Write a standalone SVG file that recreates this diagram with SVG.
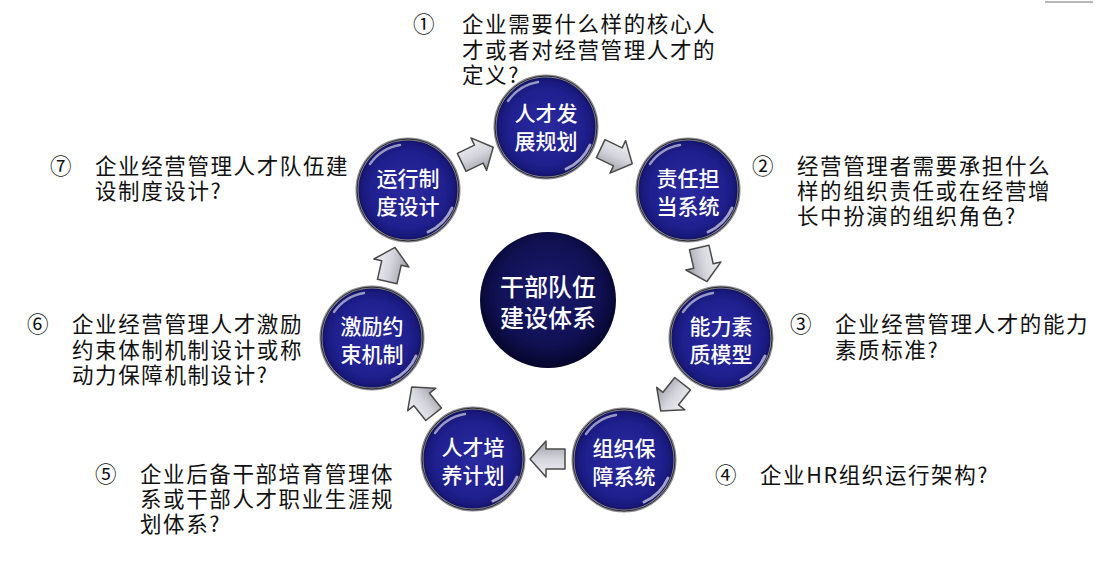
<svg xmlns="http://www.w3.org/2000/svg" width="1112" height="573" viewBox="0 0 1112 573">
<defs>
<radialGradient id="gNode" cx="50%" cy="50%" r="50%">
<stop offset="0" stop-color="#2a2aa0"/>
<stop offset="0.75" stop-color="#1f1f8e"/>
<stop offset="0.92" stop-color="#18187a"/>
<stop offset="1" stop-color="#0e0e55"/>
</radialGradient>
<radialGradient id="gCenter" cx="50%" cy="45%" r="55%">
<stop offset="0" stop-color="#1a1a72"/>
<stop offset="0.7" stop-color="#101052"/>
<stop offset="1" stop-color="#05052a"/>
</radialGradient>
<linearGradient id="gArrow" x1="0" y1="0" x2="0" y2="1">
<stop offset="0" stop-color="#f2f2f6"/>
<stop offset="0.5" stop-color="#d4d4dc"/>
<stop offset="1" stop-color="#9a9aa4"/>
</linearGradient>
<polygon id="arr" points="-17,-10 2,-10 2,-18 18,0 2,18 2,10 -17,10"/>
<g id="bubble">
<circle r="51" fill="url(#gNode)" stroke="#8a8a94" stroke-width="3"/>
<circle r="51" fill="none" stroke="#2a2a2a" stroke-width="1"/>
<path d="M -38 -26 A 46 46 0 0 1 -8 -45" fill="none" stroke="#ffffff" stroke-opacity="0.55" stroke-width="2.5" stroke-linecap="round"/>
<path d="M 44 18 A 47 47 0 0 1 20 42" fill="none" stroke="#ffffff" stroke-opacity="0.6" stroke-width="3" stroke-linecap="round"/>
</g>
</defs>
<style>
.t{font-family:"Noto Sans CJK SC","Liberation Sans",sans-serif;font-size:21.5px;letter-spacing:1.6px;fill:#111}
.n{font-family:"Noto Sans CJK SC","Liberation Sans",sans-serif;font-size:21px;font-weight:500;fill:#fff;text-anchor:middle;dominant-baseline:central}
.c{font-family:"Noto Sans CJK SC","Liberation Sans",sans-serif;font-size:24px;font-weight:500;fill:#fff;text-anchor:middle;dominant-baseline:central}
.a use{fill:url(#gArrow);stroke:#4a4a4a;stroke-width:1.5;stroke-linejoin:round}
</style>
<rect width="1112" height="573" fill="#fff"/>
<line x1="1045" y1="2" x2="1093" y2="2" stroke="#a0a0a0" stroke-width="1.5"/>

<g id="connectors" class="a">
<use href="#arr" transform="translate(616,156) rotate(25.7)"/>
<use href="#arr" transform="translate(703,264) rotate(77.1)"/>
<use href="#arr" transform="translate(672,397) rotate(128.6)"/>
<use href="#arr" transform="translate(548,459) rotate(180)"/>
<use href="#arr" transform="translate(423,401) rotate(231.4)"/>
<use href="#arr" transform="translate(391,265) rotate(282.9)"/>
<use href="#arr" transform="translate(477,155) rotate(334.3)"/>
</g>

<g id="center">
<circle cx="548" cy="300" r="68" fill="url(#gCenter)"/>
<text class="c" x="548" y="285">干部队伍</text>
<text class="c" x="548" y="316">建设体系</text>
</g>

<g id="node1">
<use href="#bubble" transform="translate(546,127)"/>
<text class="n" x="546" y="112">人才发</text>
<text class="n" x="546" y="140">展规划</text>
</g>
<g id="node2">
<use href="#bubble" transform="translate(688,190)"/>
<text class="n" x="688" y="177">责任担</text>
<text class="n" x="688" y="205">当系统</text>
</g>
<g id="node3">
<use href="#bubble" transform="translate(721,338)"/>
<text class="n" x="721" y="325">能力素</text>
<text class="n" x="721" y="353">质模型</text>
</g>
<g id="node4">
<use href="#bubble" transform="translate(624,460)"/>
<text class="n" x="624" y="447">组织保</text>
<text class="n" x="624" y="475">障系统</text>
</g>
<g id="node5">
<use href="#bubble" transform="translate(473,459)"/>
<text class="n" x="473" y="446">人才培</text>
<text class="n" x="473" y="474">养计划</text>
</g>
<g id="node6">
<use href="#bubble" transform="translate(372,338)"/>
<text class="n" x="372" y="325">激励约</text>
<text class="n" x="372" y="353">束机制</text>
</g>
<g id="node7">
<use href="#bubble" transform="translate(408,190)"/>
<text class="n" x="408" y="177">运行制</text>
<text class="n" x="408" y="205">度设计</text>
</g>

<g id="label1">
<text class="t" x="413" y="32">①</text>
<text class="t" x="462" y="32">企业需要什么样的核心人</text>
<text class="t" x="462" y="58">才或者对经营管理人才的</text>
<text class="t" x="462" y="83">定义?</text>
</g>
<g id="label2">
<text class="t" x="752" y="174">②</text>
<text class="t" x="797" y="174">经营管理者需要承担什么</text>
<text class="t" x="797" y="199">样的组织责任或在经营增</text>
<text class="t" x="797" y="224">长中扮演的组织角色?</text>
</g>
<g id="label3">
<text class="t" x="790" y="332">③</text>
<text class="t" x="835" y="332">企业经营管理人才的能力</text>
<text class="t" x="835" y="358">素质标准?</text>
</g>
<g id="label4">
<text class="t" x="715" y="483">④</text>
<text class="t" x="760" y="483">企业HR组织运行架构?</text>
</g>
<g id="label5">
<text class="t" x="95" y="482">⑤</text>
<text class="t" x="140" y="482">企业后备干部培育管理体</text>
<text class="t" x="140" y="507">系或干部人才职业生涯规</text>
<text class="t" x="140" y="532">划体系?</text>
</g>
<g id="label6">
<text class="t" x="27" y="332">⑥</text>
<text class="t" x="72" y="332">企业经营管理人才激励</text>
<text class="t" x="72" y="358">约束体制机制设计或称</text>
<text class="t" x="72" y="383">动力保障机制设计?</text>
</g>
<g id="label7">
<text class="t" x="50" y="174">⑦</text>
<text class="t" x="95" y="174">企业经营管理人才队伍建</text>
<text class="t" x="95" y="199">设制度设计?</text>
</g>
</svg>
